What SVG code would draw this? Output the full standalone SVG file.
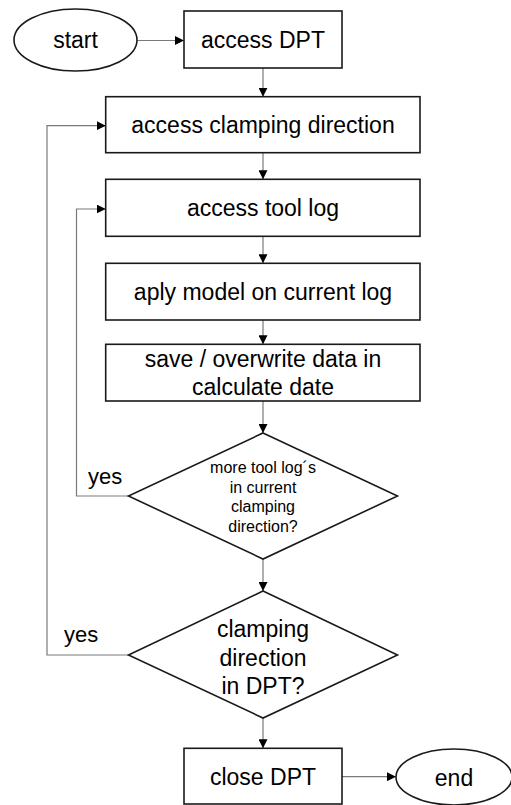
<svg xmlns="http://www.w3.org/2000/svg" width="511" height="805" viewBox="0 0 511 805">
  <defs>
    <marker id="arrow" viewBox="0 0 10 10" refX="10" refY="5" markerWidth="9" markerHeight="9" markerUnits="userSpaceOnUse" orient="auto">
      <path d="M0,0 L10,5 L0,10 Z" fill="#000"/>
    </marker>
  </defs>
  <style>
    .shape { fill: #fff; stroke: #1a1a1a; stroke-width: 1.6; }
    .label { font-family: "Liberation Sans", Arial, sans-serif; font-size: 23px; fill: #000; text-anchor: middle; }
    .small { font-size: 16px; }
    .side { font-family: "Liberation Sans", Arial, sans-serif; font-size: 22px; fill: #000; }
    .edge { fill: none; stroke: #7a7a7a; stroke-width: 1.2; }
  </style>
  <rect width="511" height="805" fill="#fff"/>

  <g id="connectors">
    <path class="edge" d="M137,40.5 H184" marker-end="url(#arrow)"/>
    <path class="edge" d="M263,68 V96.7" marker-end="url(#arrow)"/>
    <path class="edge" d="M263,152.7 V179.3" marker-end="url(#arrow)"/>
    <path class="edge" d="M263,236.3 V263.3" marker-end="url(#arrow)"/>
    <path class="edge" d="M263,320 V344.3" marker-end="url(#arrow)"/>
    <path class="edge" d="M263,401 V433" marker-end="url(#arrow)"/>
    <path class="edge" d="M263,559 V591" marker-end="url(#arrow)"/>
    <path class="edge" d="M263,718 V748.3" marker-end="url(#arrow)"/>
    <path class="edge" d="M342,776.7 H396" marker-end="url(#arrow)"/>
    <path class="edge" d="M128.5,496 H76.5 V209 H105.7" marker-end="url(#arrow)"/>
    <path class="edge" d="M128.5,655 H47 V125.7 H105.7" marker-end="url(#arrow)"/>
    <text class="side" x="88" y="484">yes</text>
    <text class="side" x="64" y="642">yes</text>
  </g>

  <g id="start">
    <ellipse class="shape" cx="75.5" cy="40" rx="61.5" ry="31"/>
    <text class="label" x="75.5" y="48">start</text>
  </g>

  <g id="access-dpt">
    <rect class="shape" x="184" y="11" width="158" height="57"/>
    <text class="label" x="263" y="48">access DPT</text>
  </g>

  <g id="access-clamping-direction">
    <rect class="shape" x="105.7" y="96.7" width="314.3" height="56"/>
    <text class="label" x="263" y="133">access clamping direction</text>
  </g>

  <g id="access-tool-log">
    <rect class="shape" x="105.7" y="179.3" width="314.3" height="57"/>
    <text class="label" x="263" y="216">access tool log</text>
  </g>

  <g id="apply-model">
    <rect class="shape" x="105.7" y="263.3" width="314.3" height="56.7"/>
    <text class="label" x="263" y="300">aply model on current log</text>
  </g>

  <g id="save-data">
    <rect class="shape" x="105.7" y="344.3" width="314.3" height="56.7"/>
    <text class="label" x="263" y="367">save / overwrite data in</text>
    <text class="label" x="263" y="395">calculate date</text>
  </g>

  <g id="more-tool-logs">
    <polygon class="shape" points="263,433 397.5,496 263,559 128.5,496"/>
    <text class="label small" x="263" y="473">more tool log´s</text>
    <text class="label small" x="263" y="492.5">in current</text>
    <text class="label small" x="263" y="512">clamping</text>
    <text class="label small" x="263" y="532">direction?</text>
  </g>

  <g id="more-clamping-directions">
    <polygon class="shape" points="263,591 397.5,655 263,718 128.5,655"/>
    <text class="label" x="263" y="637">clamping</text>
    <text class="label" x="263" y="666">direction</text>
    <text class="label" x="263" y="694">in DPT?</text>
  </g>

  <g id="close-dpt">
    <rect class="shape" x="184" y="748.3" width="158" height="55.7"/>
    <text class="label" x="263" y="785">close DPT</text>
  </g>

  <g id="end">
    <ellipse class="shape" cx="454" cy="777" rx="58" ry="28"/>
    <text class="label" x="454" y="786">end</text>
  </g>
</svg>
